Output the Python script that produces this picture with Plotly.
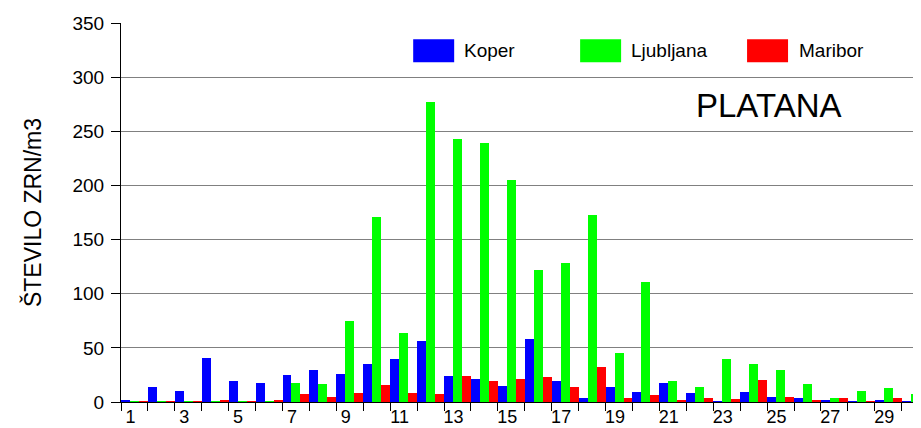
import plotly.graph_objects as go

days = list(range(1, 31))
koper = [1, 14, 10, 41, 19, 18, 25, 29.5, 26, 35.5, 40, 56.5, 24, 21.5, 15,
         58, 19.5, 3.5, 14, 9.5, 18, 8.5, 0.5, 9, 4.5, 3.5, 2, 0.5, 1.5, 0.5]
ljubljana = [0.5, 0.5, 0.5, 0.5, 0.5, 0.5, 17.5, 16.5, 75, 171, 64, 277.5, 243, 239.5, 205,
             122, 128, 173, 45.5, 111, 19.5, 13.5, 40, 35.5, 29.5, 16.5, 3.5, 10.5, 12.5, 7]
maribor = [0.5, 0.5, 0.5, 1.5, 0.5, 2, 7, 4.5, 8.5, 15.5, 8.5, 7.5, 24, 19.5, 21.5,
           23, 14, 32.5, 3.5, 6.5, 1, 3.5, 2.5, 20.5, 5, 2, 3.5, 0.5, 3.5, 1]
series_names = ["Koper", "Ljubljana", "Maribor"]
series_colors = ["#0000FF", "#00FF00", "#FF0000"]
y_ticks = [0, 50, 100, 150, 200, 250, 300, 350]
x_label_days = [d for d in days if d % 2 == 1]

FONT = "Arial, Liberation Sans, sans-serif"
OFF = 8  # page body margin
W, H = 921 - OFF, 428 - OFF
# target plot area in window pixels: x 120.7..921, y 22.7..402.3
L, R, T, B = 120.7 - OFF, 0, 22.7 - OFF, 428 - 402.3
PW, PH = W - L - R, H - T - B


def px(x):
    return (x - OFF - L) / PW


def py(y):
    return (H - B - (y - OFF)) / PH


fig = go.Figure()
for name, vals, col in zip(series_names, [koper, ljubljana, maribor], series_colors):
    fig.add_trace(go.Bar(x=days, y=vals, name=name, marker=dict(color=col, line=dict(width=0)),
                         showlegend=False))

# custom legend (large swatches)
legend_items = [(413, 462), (580, 629), (747, 797)]
for (sx, tx), name, col in zip(legend_items, series_names, series_colors):
    fig.add_shape(type="rect", xref="paper", yref="paper",
                  x0=px(sx), x1=px(sx + 41), y0=py(62), y1=py(39),
                  fillcolor=col, line=dict(width=0), layer="above")
    fig.add_annotation(xref="paper", yref="paper", x=px(tx), y=py(50.5), text=name,
                       showarrow=False, xanchor="left", yanchor="middle",
                       font=dict(family=FONT, size=19, color="black"))

fig.add_annotation(xref="paper", yref="paper", x=px(694), y=py(105), text="PLATANA",
                   showarrow=False, xanchor="left", yanchor="middle",
                   font=dict(family=FONT, size=33, color="black"))

fig.update_layout(
    width=W, height=H,
    margin=dict(l=L, r=R, t=T, b=B, pad=0),
    paper_bgcolor="white", plot_bgcolor="white",
    barmode="group", bargap=0, bargroupgap=0,
    font=dict(family=FONT, size=19, color="black"),
    xaxis=dict(
        range=[0.5, 0.5 + PW / 26.93],
        tickmode="array", tickvals=[d - 0.15 for d in x_label_days],
        ticktext=[str(d) for d in x_label_days], ticks="",
        showgrid=False, zeroline=False,
        showline=True, linecolor="black", linewidth=1,
        tickfont=dict(family=FONT, size=18, color="black"),
        ticklabelstandoff=-2,
        minor=dict(tickmode="array", tickvals=[d + 0.5 for d in range(0, 31)],
                   ticks="outside", ticklen=8, tickcolor="black", tickwidth=1, showgrid=False),
        automargin=False,
    ),
    yaxis=dict(
        range=[0, 350], tickmode="array", tickvals=y_ticks,
        ticks="outside", ticklen=9, tickcolor="black", tickwidth=1,
        showgrid=True, gridcolor="#808080", gridwidth=1,
        zeroline=False, showline=True, linecolor="black", linewidth=1,
        tickfont=dict(family=FONT, size=19, color="black"),
        ticklabelstandoff=3,
        title=dict(text="ŠTEVILO ZRN/m3", font=dict(family=FONT, size=23, color="black"),
                   standoff=24),
        automargin=False,
    ),
)

fig.write_html("out.html")
